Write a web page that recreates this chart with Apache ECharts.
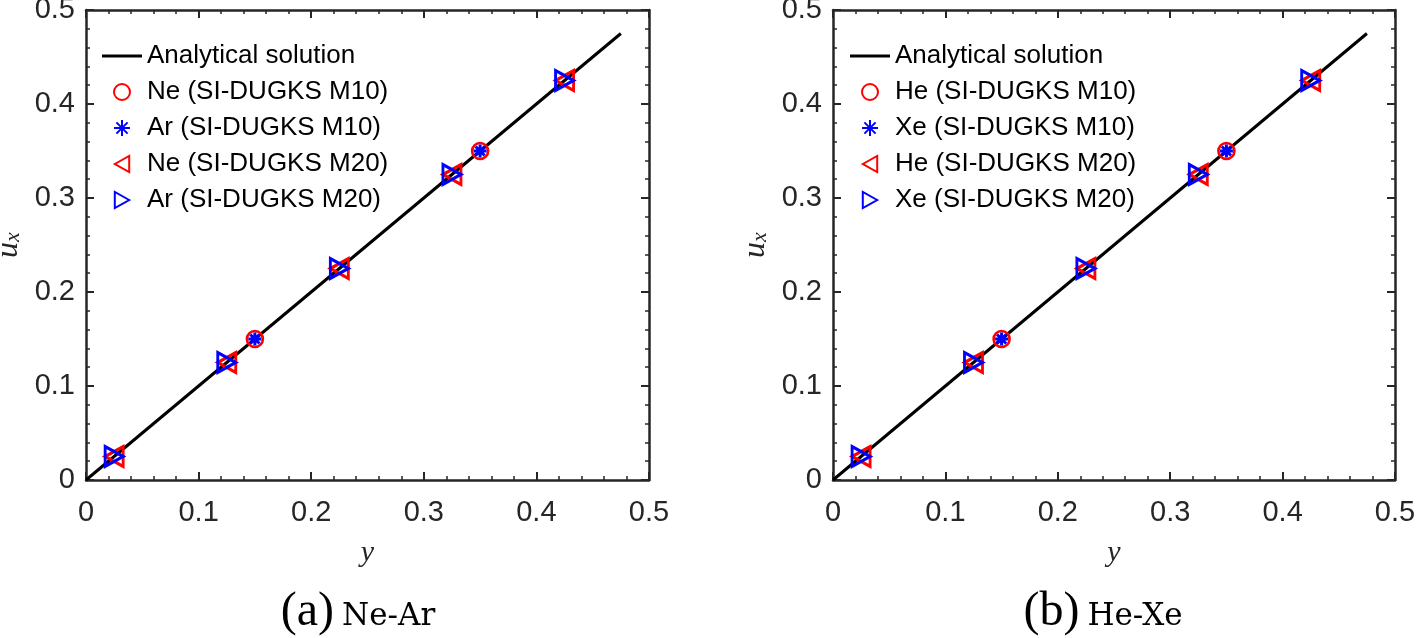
<!DOCTYPE html>
<html><head><meta charset="utf-8">
<script src="https://cdn.jsdelivr.net/npm/echarts@6/dist/echarts.min.js"></script>
<style>html,body{margin:0;padding:0;background:#fff}#c{width:1417px;height:638px}</style>
</head><body><div id="c"></div>
<script>
// ---- data ----
const axisTicks = [0, 0.1, 0.2, 0.3, 0.4, 0.5];
const analyticalY = [0, 0.475];
const analyticalU = [0, 0.475];
const m10Y = [0.15, 0.35];
const m20Y = [0.025, 0.125, 0.225, 0.325, 0.425];
// panel (a) Ne-Ar
const a_NeM10 = [0.15, 0.35];
const a_ArM10 = [0.15, 0.35];
const a_NeM20 = [0.025, 0.125, 0.225, 0.325, 0.425];
const a_ArM20 = [0.025, 0.125, 0.225, 0.325, 0.425];
// panel (b) He-Xe
const b_HeM10 = [0.15, 0.35];
const b_XeM10 = [0.15, 0.35];
const b_HeM20 = [0.025, 0.125, 0.225, 0.325, 0.425];
const b_XeM20 = [0.025, 0.125, 0.225, 0.325, 0.425];
const panelA = { letter: '(a)', name: 'Ne-Ar', g1: 'Ne', g2: 'Ar' };
const panelB = { letter: '(b)', name: 'He-Xe', g1: 'He', g2: 'Xe' };

const pair = (xs, ys) => xs.map((x, i) => [x, ys[i]]);

const RED = '#ff0000', BLUE = '#0000ff', AX = '#262626';
const SANS = '"Liberation Sans", Arial, sans-serif';
const SERIF = '"Liberation Serif", "DejaVu Serif", serif';
const SERIF2 = '"DejaVu Serif", "Liberation Serif", serif';
const LEFT_TRI = 'path://M0,5 L9,0 L9,10 Z';
const RIGHT_TRI = 'path://M9,5 L0,0 L0,10 Z';
const STAR = 'path://M5,0 L5,10 M0,5 L10,5 M1.5,1.5 L8.5,8.5 M8.5,1.5 L1.5,8.5';

const grids = [
  { left: 86, right: 768, top: 10, bottom: 158, containLabel: false, outerBoundsMode: 'none' },
  { left: 833, right: 22, top: 10, bottom: 158, containLabel: false, outerBoundsMode: 'none' }
];

const fmt = v => String(+v.toFixed(1));
function baseAxis(extra) {
  return Object.assign({
    type: 'value', min: 0, max: 0.5, interval: 0.1,
    axisLine: { show: true, onZero: false, lineStyle: { color: AX, width: 2.5 } },
    axisTick: { show: true, inside: true, length: 8, lineStyle: { color: AX, width: 2 } },
    minorTick: { show: true, splitNumber: 5, length: 4, lineStyle: { color: AX, width: 1.5 } },
    splitLine: { show: false },
    axisLabel: { show: false }
  }, extra);
}

const xAxes = [], yAxes = [], series = [], legends = [], graphics = [];
[[panelA, [a_NeM10, a_ArM10, a_NeM20, a_ArM20]], [panelB, [b_HeM10, b_XeM10, b_HeM20, b_XeM20]]].forEach(([p, d], gi) => {
  const xi = xAxes.length, yi = yAxes.length;
  xAxes.push(baseAxis({ gridIndex: gi, position: 'bottom', name: 'y', nameLocation: 'middle', nameGap: 58,
    nameTextStyle: { fontFamily: SERIF, fontStyle: 'italic', fontSize: 30, color: AX },
    axisLabel: { show: true, color: AX, fontSize: 29, fontFamily: SANS, margin: 18, formatter: fmt } }));
  xAxes.push(baseAxis({ gridIndex: gi, position: 'top' }));
  yAxes.push(baseAxis({ gridIndex: gi, position: 'left', name: '{u|u}{s|x}', nameLocation: 'middle', nameRotate: 90, nameGap: 62,
    nameTextStyle: { rich: {
      u: { fontFamily: SERIF, fontStyle: 'italic', fontSize: 32, color: AX, lineHeight: 30 },
      s: { fontFamily: SERIF, fontStyle: 'italic', fontSize: 22, color: AX, lineHeight: 30, verticalAlign: 'bottom', padding: [14, 0, 0, 0] }
    } },
    axisLabel: { show: true, color: AX, fontSize: 29, fontFamily: SANS, margin: 11, formatter: fmt } }));
  yAxes.push(baseAxis({ gridIndex: gi, position: 'right' }));

  const names = ['Analytical solution',
    p.g1 + ' (SI-DUGKS M10)', p.g2 + ' (SI-DUGKS M10)', p.g1 + ' (SI-DUGKS M20)', p.g2 + ' (SI-DUGKS M20)'];
  const common = { xAxisIndex: xi, yAxisIndex: yi };
  series.push(Object.assign({ type: 'line', name: names[0], data: pair(analyticalY, analyticalU), symbol: 'none', showSymbol: false,
    lineStyle: { color: '#000', width: 3 }, itemStyle: { color: '#000' }, z: 2 }, common));
  series.push(Object.assign({ type: 'scatter', name: names[1], data: pair(m10Y, d[0]), symbol: 'circle', symbolSize: 16,
    itemStyle: { color: 'rgba(0,0,0,0)', borderColor: RED, borderWidth: 2.6, opacity: 1 }, z: 3 }, common));
  series.push(Object.assign({ type: 'scatter', name: names[2], data: pair(m10Y, d[1]), symbol: STAR, symbolSize: 13,
    itemStyle: { color: BLUE, borderColor: BLUE, borderWidth: 3, opacity: 1 }, z: 4 }, common));
  series.push(Object.assign({ type: 'scatter', name: names[3], data: pair(m20Y, d[2]), symbol: LEFT_TRI, symbolSize: [18, 20],
    itemStyle: { color: 'rgba(0,0,0,0)', borderColor: RED, borderWidth: 3, opacity: 1 }, z: 5 }, common));
  series.push(Object.assign({ type: 'scatter', name: names[4], data: pair(m20Y, d[3]), symbol: RIGHT_TRI, symbolSize: [18, 20],
    itemStyle: { color: 'rgba(0,0,0,0)', borderColor: BLUE, borderWidth: 3, opacity: 1 }, z: 6 }, common));

  legends.push({
    orient: 'vertical', left: gi === 0 ? 97 : 845, top: 38, itemWidth: 40, itemHeight: 16, itemGap: 10,
    selectedMode: false,
    data: [{ name: names[0], icon: 'path://M0,0 L40,0 L40,3 L0,3 Z', itemStyle: { color: '#000', borderWidth: 0 } }].concat(names.slice(1)),
    textStyle: { fontSize: 26, fontFamily: SANS, color: '#000' }
  });

  const cx = gi === 0 ? 358 : 1103;
  graphics.push({ type: 'text', x: cx, y: 612,
    style: { text: '{a|' + p.letter + '}{g| }{b|' + p.name + '}', align: 'center', verticalAlign: 'middle',
      rich: { a: { fontFamily: SERIF, fontSize: 48, fill: '#000', verticalAlign: 'bottom' },
              g: { fontSize: 12, width: 8, verticalAlign: 'bottom' },
              b: { fontFamily: SERIF2, fontSize: 31, fill: '#000', verticalAlign: 'bottom', padding: [0, 0, 4, 0] } } } });
});

const chart = echarts.init(document.getElementById('c'), null, { renderer: 'canvas' });
chart.setOption({
  animation: false,
  backgroundColor: '#fff',
  grid: grids,
  xAxis: xAxes,
  yAxis: yAxes,
  legend: legends,
  series: series,
  graphic: graphics
});
</script></body></html>
